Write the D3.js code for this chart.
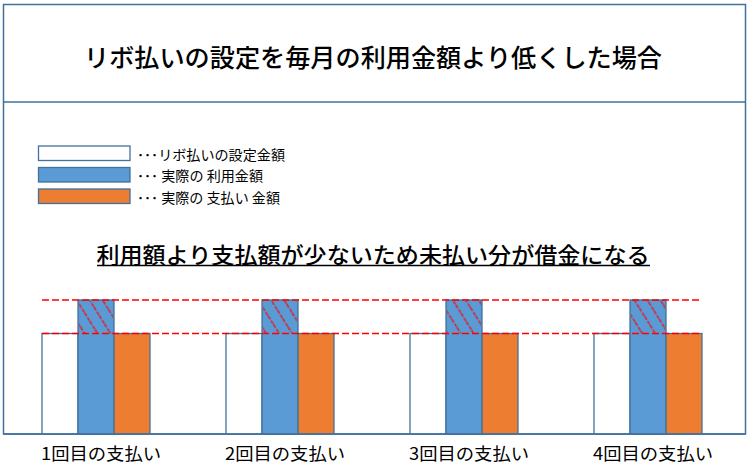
<!DOCTYPE html>
<html><head><meta charset="utf-8">
<script src="https://cdn.jsdelivr.net/npm/d3@7"></script>
<style>
html,body{margin:0;padding:0;background:#fff;}
svg{display:block;font-family:"Noto Sans CJK JP","Noto Sans",sans-serif;}
</style></head>
<body><svg id="c" width="749" height="466"></svg>
<script>
const titleText = "リボ払いの設定を毎月の利用金額より低くした場合";
const subtitleText = "利用額より支払額が少ないため未払い分が借金になる";
const categories = ["1回目の支払い","2回目の支払い","3回目の支払い","4回目の支払い"];
const seriesNames = ["リボ払いの設定金額","実際の利用金額","実際の支払い金額"];
const legendLabels = ["･･･リボ払いの設定金額","･･･ 実際の 利用金額","･･･ 実際の 支払い 金額"];
const settingAmount = [3,3,3,3];
const usageAmount = [4,4,4,4];
const paymentAmount = [3,3,3,3];

const colors = ["#FFFFFF","#5B9BD5","#ED7D31"];
const stroke = "#41719C";
const svg = d3.select("#c");

const defs = svg.append("defs");
const pat = defs.append("pattern").attr("id","hatch").attr("patternUnits","userSpaceOnUse")
  .attr("width",11).attr("height",10).attr("patternTransform","rotate(-32)");
pat.append("line").attr("x1",5).attr("y1",0).attr("x2",5).attr("y2",10)
  .attr("stroke","#FF0000").attr("stroke-width",1.2).attr("stroke-dasharray","4,1.5");

// frame
svg.append("rect").attr("x",3.5).attr("y",4.5).attr("width",742).attr("height",429.5)
  .attr("fill","none").attr("stroke",stroke).attr("stroke-width",1.5);
svg.append("line").attr("x1",3.5).attr("x2",745.5).attr("y1",102).attr("y2",102)
  .attr("stroke",stroke).attr("stroke-width",1.5);

// title
svg.append("text").attr("x",373).attr("y",56).attr("text-anchor","middle")
  .attr("dominant-baseline","central").attr("font-size",25).attr("font-weight",500).attr("fill","#000")
  .attr("textLength",578).attr("lengthAdjust","spacingAndGlyphs").text(titleText);

// subtitle
svg.append("text").attr("x",373).attr("y",253).attr("text-anchor","middle")
  .attr("dominant-baseline","central").attr("font-size",22).attr("font-weight",500).attr("fill","#000")
  .attr("textLength",553).attr("lengthAdjust","spacingAndGlyphs").text(subtitleText);
svg.append("line").attr("x1",97).attr("x2",650).attr("y1",265.5).attr("y2",265.5)
  .attr("stroke","#000").attr("stroke-width",1.6);

// legend
const legendLen = [148,126,143];
const lg = svg.append("g");
seriesNames.forEach((s,i)=>{
  const y = 146 + i*21.5;
  lg.append("rect").attr("x",38.5).attr("y",y).attr("width",91.5).attr("height",14.5)
    .attr("fill",colors[i]).attr("stroke",stroke).attr("stroke-width",1.3);
  lg.append("text").attr("x",137).attr("y",y+7.5).attr("dominant-baseline","central")
    .attr("font-size",14).attr("fill","#000")
    .attr("textLength",legendLen[i]).attr("lengthAdjust","spacingAndGlyphs").text(legendLabels[i]);
});

// scales
const x = d3.scaleBand().domain(categories).range([4,740]).paddingInner(0.413).paddingOuter(0.2065);
const xs = d3.scaleBand().domain(seriesNames).range([0,x.bandwidth()]);
const y = d3.scaleLinear().domain([0,4]).range([434,300]);

const data = categories.map((c,i)=>({cat:c, vals:[settingAmount[i],usageAmount[i],paymentAmount[i]]}));

const g = svg.append("g");
data.forEach(d=>{
  d.vals.forEach((v,j)=>{
    g.append("rect").attr("x",x(d.cat)+xs(seriesNames[j])).attr("y",y(v))
      .attr("width",xs.bandwidth()).attr("height",y(0)-y(v))
      .attr("fill",colors[j]).attr("stroke",stroke).attr("stroke-width",1.3);
  });
  const top = y(d.vals[1]), bot = y(d.vals[0]);
  g.append("rect").attr("x",x(d.cat)+xs(seriesNames[1])+1).attr("y",top+1)
    .attr("width",xs.bandwidth()-2).attr("height",bot-top-1).attr("fill","url(#hatch)");
});

// dashed reference lines
const x0 = x(categories[0]), x1 = x(categories[categories.length-1]) + x.bandwidth();
[d3.max(usageAmount), d3.max(settingAmount)].forEach(v=>{
  svg.append("line").attr("x1",x0).attr("x2",x1).attr("y1",y(v)).attr("y2",y(v))
    .attr("stroke","#FF0000").attr("stroke-width",1.3).attr("stroke-dasharray","7,3");
});

// axis line
svg.append("line").attr("x1",3.5).attr("x2",745.5).attr("y1",434).attr("y2",434)
  .attr("stroke",stroke).attr("stroke-width",1.5);

// category labels
const xa = svg.append("g");
categories.forEach(c=>{
  xa.append("text").attr("x",x(c)+x.bandwidth()/2+5).attr("y",452).attr("text-anchor","middle")
    .attr("dominant-baseline","central").attr("font-size",17).attr("fill","#000")
    .attr("textLength",120).attr("lengthAdjust","spacingAndGlyphs").text(c);
});
</script></body></html>
